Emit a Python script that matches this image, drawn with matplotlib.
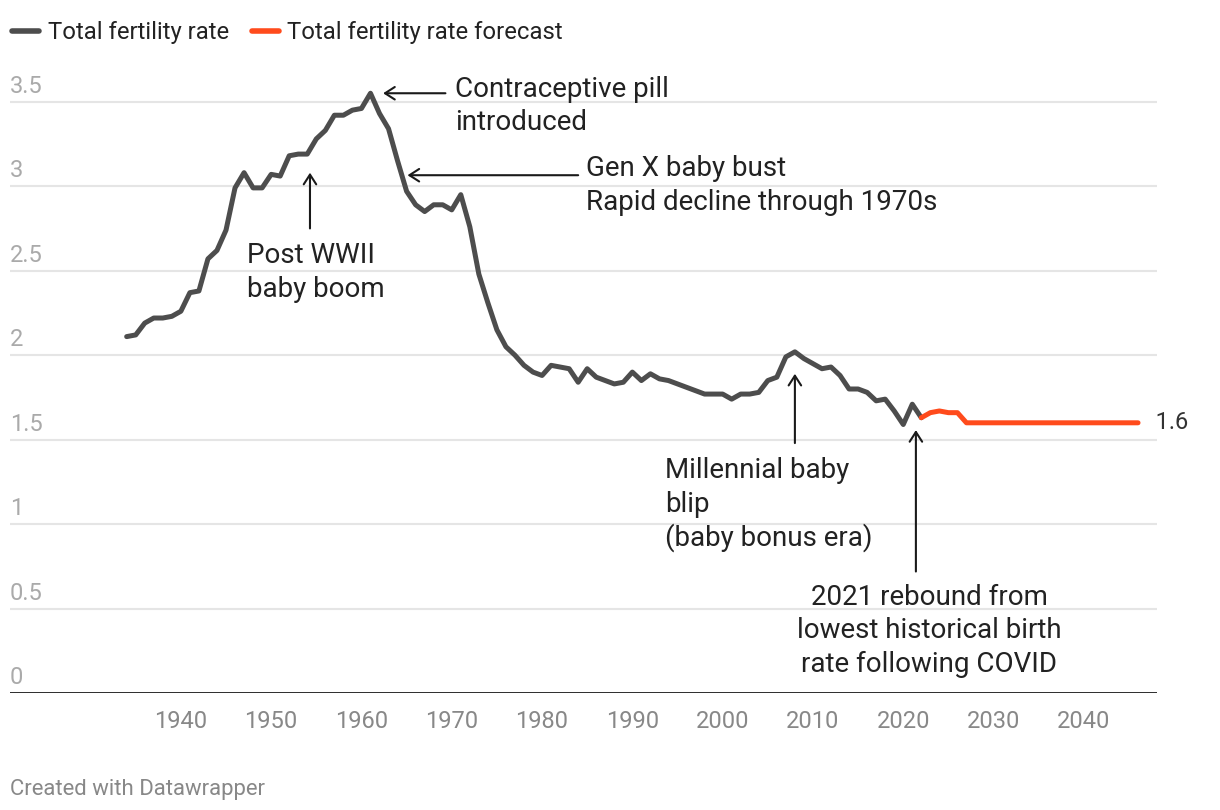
import matplotlib
matplotlib.use('Agg')
import matplotlib.pyplot as plt
from matplotlib.lines import Line2D
from matplotlib import transforms

plt.rcParams['font.family'] = ['Roboto', 'DejaVu Sans']

# ---------------- data ----------------
years = list(range(1934, 2023))
tfr = [2.11, 2.12, 2.19, 2.22, 2.22, 2.23, 2.26, 2.37, 2.38, 2.57,
       2.62, 2.74, 2.99, 3.08, 2.99, 2.99, 3.07, 3.06, 3.18, 3.19,
       3.19, 3.28, 3.33, 3.42, 3.42, 3.45, 3.46, 3.55, 3.43, 3.34,
       3.15, 2.97, 2.89, 2.85, 2.89, 2.89, 2.86, 2.95, 2.76, 2.48,
       2.31, 2.15, 2.05, 2.00, 1.94, 1.90, 1.88, 1.94, 1.93, 1.92,
       1.84, 1.92, 1.87, 1.85, 1.83, 1.84, 1.90, 1.85, 1.89, 1.86,
       1.85, 1.83, 1.81, 1.79, 1.77, 1.77, 1.77, 1.74, 1.77, 1.77,
       1.78, 1.85, 1.87, 1.99, 2.02, 1.98, 1.95, 1.92, 1.93, 1.88,
       1.80, 1.80, 1.78, 1.73, 1.74, 1.67, 1.59, 1.71, 1.63]

fc_years = list(range(2022, 2047))
fc_tfr = [1.63, 1.66, 1.67, 1.66, 1.66] + [1.60] * 20

y_ticks = [0, 0.5, 1, 1.5, 2, 2.5, 3, 3.5]
y_tick_labels = ['0', '0.5', '1', '1.5', '2', '2.5', '3', '3.5']
x_ticks = list(range(1940, 2041, 10))

# annotations: lines of text, first baseline (year, value), arrow tip, arrow tail, alignment
notes = [
    (['Contraceptive pill', 'introduced'], (1970.4, 3.530), (1962.4, 3.55), (1969.3, 3.55), 'left'),
    (['Gen X baby bust', 'Rapid decline through 1970s'], (1984.9, 3.058), (1965.1, 3.065), (1984.0, 3.065), 'left'),
    (['Post WWII', 'baby boom'], (1947.3, 2.545), (1954.3, 3.08), (1954.3, 2.75), 'left'),
    (['Millennial baby', 'blip', '(baby bonus era)'], (1993.6, 1.272), (2008.0, 1.89), (2008.0, 1.48), 'left'),
    (['2021 rebound from', 'lowest historical birth', 'rate following COVID'], (2022.9, 0.522),
     (2021.4, 1.557), (2021.4, 0.72), 'center'),
]

DARK = '#4d4d4d'
ORANGE = '#ff4b1c'

fig = plt.figure(figsize=(12.2, 8.1), dpi=100)
ax = fig.add_axes([10 / 1220, 1 - 693.2 / 810, 1147 / 1220, 3.6 * 169 / 810])
ax.set_xlim(1921.08, 2048.1)
ax.set_ylim(0, 3.6)

for s in ax.spines.values():
    s.set_visible(False)

# grid + baseline
for v in y_ticks[1:]:
    ax.axhline(v, color='#e5e5e5', lw=1.5, zorder=0)
ax.axhline(0, color='#1a1a1a', lw=2, zorder=1)

# y labels sitting on top of gridlines
ytrans = transforms.offset_copy(ax.get_yaxis_transform(), fig=fig, x=0, y=9, units='dots')
for v, lab in zip(y_ticks, y_tick_labels):
    ax.text(0, v, lab, transform=ytrans, ha='left', va='baseline',
            fontsize=17, color='#aaaaaa')
ax.set_yticks([])

ax.set_xticks(x_ticks)
ax.set_xticklabels([str(x) for x in x_ticks])
ax.tick_params(axis='x', length=0, pad=12, labelsize=17, labelcolor='#888888')

ax.plot(years, tfr, color=DARK, lw=3.6, solid_joinstyle='round',
        solid_capstyle='round', zorder=3, label='Total fertility rate')
ax.plot(fc_years, fc_tfr, color=ORANGE, lw=3.6, solid_joinstyle='round',
        solid_capstyle='round', zorder=3, label='Total fertility rate forecast')

# end value label
ax.text(fc_years[-1], fc_tfr[-1], '   1.6', ha='left', va='center',
        fontsize=17, color='#333333')

LINE_GAP = 33.5  # px between baselines
for lines, tpos, tip, tail, ha in notes:
    ax.annotate('', xy=tip, xytext=tail,
                arrowprops=dict(arrowstyle='->,head_length=0.7,head_width=0.45',
                                lw=1.5, color='#1a1a1a', shrinkA=0, shrinkB=0))
    for i, line in enumerate(lines):
        tr = transforms.offset_copy(ax.transData, fig=fig, x=0, y=-i * LINE_GAP, units='dots')
        ax.text(tpos[0], tpos[1], line, transform=tr, ha=ha, va='baseline',
                fontsize=20, color='#222222')

# legend
handles = [Line2D([0], [0], color=DARK, lw=4, solid_capstyle='round'),
           Line2D([0], [0], color=ORANGE, lw=4, solid_capstyle='round')]
fig.legend(handles, ['Total fertility rate', 'Total fertility rate forecast'],
           loc='upper left', bbox_to_anchor=(12 / 1220, 1 - 21 / 810), ncol=2,
           frameon=False, fontsize=17.2, handlelength=1.15, handletextpad=0.35,
           columnspacing=0.95, borderpad=0, borderaxespad=0, labelcolor='#222222')

fig.text(10 / 1220, 1 - 795 / 810, 'Created with Datawrapper', fontsize=15.9,
         color='#888888', ha='left', va='baseline')

plt.savefig('out.png', dpi=100)
